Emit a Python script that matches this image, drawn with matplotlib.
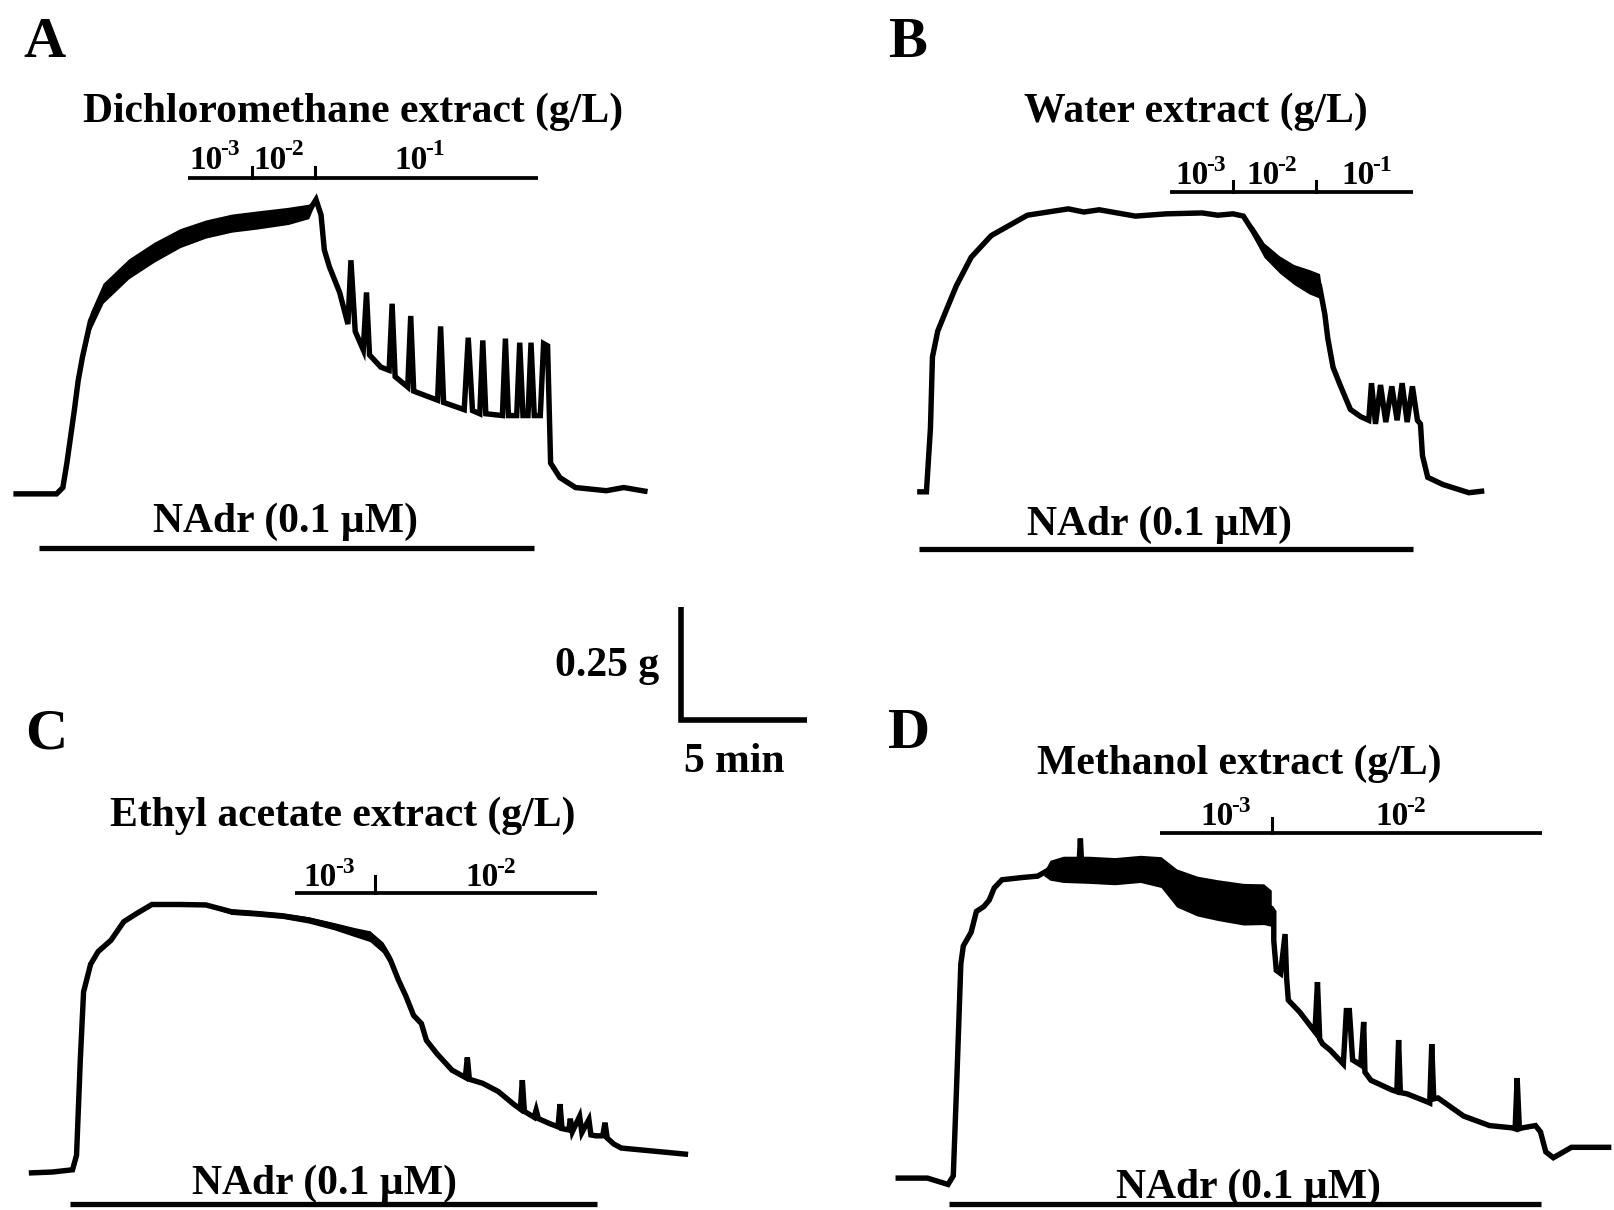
import numpy as np
import matplotlib
matplotlib.use('Agg')
import matplotlib.pyplot as plt

plt.rcParams['font.family'] = ['Liberation Serif', 'DejaVu Serif']
plt.rcParams['font.weight'] = 'bold'

# ---------------- data: (time in min, tension in g) ----------------
A_trace = [(0.00, 0.00), (1.72, 0.00), (1.97, 0.014), (2.13, 0.068), (2.42, 0.182), (2.58, 0.25),
           (2.75, 0.302), (3.07, 0.382), (3.57, 0.443), (4.59, 0.497), (5.61, 0.534), (6.64, 0.565),
           (7.66, 0.585), (8.69, 0.598), (9.71, 0.605), (10.94, 0.614), (11.76, 0.624), (12.05, 0.650),
           (12.25, 0.616), (12.38, 0.539), (12.58, 0.502), (12.99, 0.445), (13.32, 0.375), (13.44, 0.516),
           (13.61, 0.359), (13.93, 0.318), (14.06, 0.445), (14.18, 0.307), (14.63, 0.280), (14.96, 0.273),
           (15.08, 0.420), (15.20, 0.259), (15.70, 0.236), (15.82, 0.393), (15.94, 0.227), (16.27, 0.220),
           (16.89, 0.207), (17.01, 0.370), (17.13, 0.202), (17.95, 0.186), (18.11, 0.345), (18.28, 0.184),
           (18.57, 0.177), (18.69, 0.339), (18.81, 0.177), (19.47, 0.173), (19.59, 0.343), (19.71, 0.173),
           (20.04, 0.173), (20.16, 0.334), (20.29, 0.173), (20.49, 0.173), (20.61, 0.334), (20.74, 0.173),
           (20.98, 0.173), (21.11, 0.332), (21.27, 0.327), (21.39, 0.068), (21.76, 0.036), (22.38, 0.014),
           (23.61, 0.007), (24.30, 0.014), (25.25, 0.005)]
# noisy band: (time, centre, half-amplitude)
A_band = [(2.75, 0.302, 0.012), (3.07, 0.382, 0.020), (3.57, 0.443, 0.022), (4.59, 0.497, 0.022),
          (5.61, 0.534, 0.022), (6.64, 0.565, 0.021), (7.66, 0.585, 0.020), (8.69, 0.598, 0.020),
          (9.71, 0.605, 0.020), (10.94, 0.614, 0.019), (11.76, 0.624, 0.016), (12.05, 0.650, 0.003)]

B_trace = [(0.00, 0.00), (0.37, 0.00), (0.53, 0.141), (0.61, 0.298), (0.82, 0.355), (1.15, 0.400),
           (1.56, 0.455), (2.15, 0.518), (2.95, 0.566), (4.39, 0.611), (5.20, 0.618), (6.02, 0.625),
           (6.64, 0.618), (7.25, 0.623), (8.69, 0.609), (9.92, 0.614), (11.35, 0.616), (11.97, 0.611),
           (12.58, 0.614), (12.99, 0.609), (13.40, 0.573), (13.81, 0.534), (14.43, 0.502), (15.00, 0.480),
           (15.61, 0.464), (16.02, 0.455), (16.23, 0.393), (16.35, 0.339), (16.56, 0.275), (16.84, 0.236),
           (17.25, 0.182), (17.66, 0.166), (17.98, 0.158), (18.09, 0.240), (18.25, 0.150), (18.45, 0.236),
           (18.66, 0.154), (18.90, 0.233), (19.11, 0.158), (19.31, 0.240), (19.51, 0.154), (19.72, 0.233),
           (19.92, 0.158), (20.04, 0.150), (20.12, 0.080), (20.33, 0.032), (20.94, 0.016), (21.97, -0.002),
           (22.58, 0.002)]
B_band = [(12.99, 0.609, 0.003), (13.40, 0.573, 0.012), (13.81, 0.534, 0.016), (14.43, 0.502, 0.019),
          (15.00, 0.480, 0.022), (15.61, 0.464, 0.027), (16.02, 0.455, 0.027), (16.23, 0.393, 0.008)]

C_trace = [(0.00, 0.00), (0.92, 0.002), (1.74, 0.007), (1.90, 0.039), (2.05, 0.25), (2.18, 0.40),
           (2.46, 0.461), (2.76, 0.489), (3.27, 0.514), (3.78, 0.555), (4.29, 0.573), (4.90, 0.593),
           (6.02, 0.593), (7.05, 0.592), (8.07, 0.577), (9.10, 0.573), (10.11, 0.568), (11.13, 0.559),
           (12.16, 0.545), (12.97, 0.532), (13.58, 0.523), (14.10, 0.498), (14.40, 0.470), (14.71, 0.427),
           (15.01, 0.391), (15.32, 0.348), (15.63, 0.330), (15.83, 0.293), (16.24, 0.264), (16.85, 0.227),
           (17.38, 0.211), (17.46, 0.255), (17.54, 0.207), (18.07, 0.198), (18.69, 0.180), (19.30, 0.152),
           (19.57, 0.141), (19.65, 0.205), (19.73, 0.136), (20.12, 0.123), (20.20, 0.139), (20.29, 0.120),
           (20.74, 0.109), (21.07, 0.102), (21.15, 0.152), (21.23, 0.098), (21.50, 0.095), (21.56, 0.120),
           (21.64, 0.091), (21.93, 0.125), (22.02, 0.089), (22.30, 0.118), (22.38, 0.084), (22.58, 0.082),
           (22.85, 0.082), (22.94, 0.111), (23.03, 0.077), (23.29, 0.064), (23.59, 0.055), (26.25, 0.041)]
C_band = [(7.05, 0.592, 0.003), (8.07, 0.577, 0.006), (9.10, 0.573, 0.006), (10.11, 0.568, 0.006),
          (11.13, 0.559, 0.007), (12.16, 0.545, 0.008), (12.97, 0.532, 0.010), (13.58, 0.523, 0.012),
          (14.10, 0.498, 0.012), (14.40, 0.470, 0.012), (14.71, 0.427, 0.010), (15.01, 0.391, 0.008),
          (15.32, 0.348, 0.004)]

D_trace = [(0.00, 0.00), (1.27, 0.00), (2.09, -0.014), (2.30, 0.005), (2.44, 0.216), (2.60, 0.473),
           (2.70, 0.513), (3.01, 0.543), (3.22, 0.589), (3.52, 0.600), (3.73, 0.614), (3.93, 0.641),
           (4.24, 0.659), (5.05, 0.664), (5.66, 0.667), (6.07, 0.680), (6.68, 0.682), (7.30, 0.684),
           (7.36, 0.750), (7.42, 0.684), (7.70, 0.681), (8.73, 0.678), (9.75, 0.683), (10.57, 0.676),
           (11.19, 0.641), (12.01, 0.623), (12.83, 0.614), (13.85, 0.605), (14.66, 0.605), (14.96, 0.596),
           (15.06, 0.588), (15.06, 0.525), (15.16, 0.459), (15.33, 0.452), (15.51, 0.539), (15.57, 0.443),
           (15.64, 0.393), (16.09, 0.367), (16.70, 0.323), (16.80, 0.433), (16.89, 0.307), (17.01, 0.296),
           (17.30, 0.283), (17.83, 0.252), (17.95, 0.370), (18.07, 0.370), (18.20, 0.261), (18.52, 0.250),
           (18.64, 0.345), (18.69, 0.234), (18.93, 0.216), (19.75, 0.195), (19.96, 0.191), (20.03, 0.305),
           (20.10, 0.189), (20.37, 0.186), (21.19, 0.168), (21.27, 0.166), (21.35, 0.296), (21.43, 0.175),
           (21.60, 0.177), (22.62, 0.137), (23.65, 0.116), (24.55, 0.111), (24.67, 0.109), (24.75, 0.221),
           (24.84, 0.109), (24.96, 0.111), (25.48, 0.116), (25.68, 0.102), (25.89, 0.058), (26.19, 0.045),
           (26.60, 0.058), (26.91, 0.068), (28.50, 0.068)]
D_band = [(5.90, 0.672, 0.004), (6.15, 0.680, 0.022), (6.68, 0.682, 0.029), (7.70, 0.681, 0.030),
          (8.73, 0.678, 0.030), (9.75, 0.683, 0.030), (10.57, 0.676, 0.034), (11.19, 0.641, 0.042),
          (12.01, 0.623, 0.044), (12.83, 0.614, 0.045), (13.85, 0.605, 0.046), (14.66, 0.605, 0.045),
          (14.96, 0.596, 0.040)]

# NAdr application (min), extract application and dose changes (min)
A_nadr = (1.02, 20.74); A_extract = (6.97, 20.90); A_dose_ticks = [9.51, 12.01]
B_nadr = (0.08, 19.75); B_extract = (10.08, 19.75); B_dose_ticks = [12.58, 15.90]
C_nadr = (1.64, 22.62); C_extract = (10.61, 22.62); C_dose_ticks = [13.77]
D_nadr = (2.13, 25.70); D_extract = (10.53, 25.74); D_dose_ticks = [15.00]

A_doses = ['-3', '-2', '-1']
B_doses = ['-3', '-2', '-1']
C_doses = ['-3', '-2']
D_doses = ['-3', '-2']

titles = ['Dichloromethane extract (g/L)', 'Water extract (g/L)',
          'Ethyl acetate extract (g/L)', 'Methanol extract (g/L)']
letters = ['A', 'B', 'C', 'D']
nadr_label = 'NAdr (0.1 \u00b5M)'
scale_min = 5
scale_g = 0.25

# ---------------- layout ----------------
W, H = 1568.0, 1176.0      # layout frame (reference pixels)
PX_MIN = 24.4              # pixels per minute
PX_G = 440.0               # pixels per gram
PT2PX = (100 / 72.0) * (W / 1614.0)   # points -> layout pixels

fig = plt.figure(figsize=(16.14, 12.10), dpi=100)
fig.patch.set_facecolor('white')

def panel_axes(x0, yb):
    ax = fig.add_axes([0, 0, 1, 1])
    ax.set_xlim(-x0 / PX_MIN, (W - x0) / PX_MIN)
    ax.set_ylim(-(H - yb) / PX_G, yb / PX_G)
    ax.axis('off')
    ax.patch.set_alpha(0)
    return ax

def ftext(x, y, s, size, ha='center'):
    fig.text(x / W, 1 - y / H, s, ha=ha, va='baseline', fontsize=size,
             fontweight='bold', color='black')

def dose_label(x, y, exp, size=24):
    ftext(x, y, '10', size, ha='left')
    ftext(x + 0.93 * size * PT2PX, y - 0.40 * size * PT2PX, exp, size * 0.70, ha='left')

LW_TRACE = 3.9
panels = [
    dict(trace=A_trace, band=A_band, nadr=A_nadr, ext=A_extract, ticks=A_dose_ticks, doses=A_doses,
         x0=13, yb=480, nadr_y=533, ext_y=173, tick_top=162,
         dose_x=[184, 246, 383], dose_y=164, title_xy=(343, 119), letter_xy=(23, 55), nadr_xy=(277, 517)),
    dict(trace=B_trace, band=B_band, nadr=B_nadr, ext=B_extract, ticks=B_dose_ticks, doses=B_doses,
         x0=891, yb=478, nadr_y=534, ext_y=187, tick_top=176,
         dose_x=[1142, 1211, 1303], dose_y=179, title_xy=(1162, 119), letter_xy=(863, 55), nadr_xy=(1126, 520)),
    dict(trace=C_trace, band=C_band, nadr=C_nadr, ext=C_extract, ticks=C_dose_ticks, doses=C_doses,
         x0=28, yb=1140, nadr_y=1170, ext_y=868, tick_top=851,
         dose_x=[295, 452], dose_y=861, title_xy=(333, 803), letter_xy=(24, 727), nadr_xy=(315, 1160)),
    dict(trace=D_trace, band=D_band, nadr=D_nadr, ext=D_extract, ticks=D_dose_ticks, doses=D_doses,
         x0=870, yb=1145, nadr_y=1170, ext_y=810, tick_top=795,
         dose_x=[1166, 1336], dose_y=802, title_xy=(1204, 752), letter_xy=(863, 727), nadr_xy=(1213, 1164)),
]

axes = []
for i, p in enumerate(panels):
    ax = panel_axes(p['x0'], p['yb'])
    axes.append(ax)
    gy = lambda ypx, yb=p['yb']: (yb - ypx) / PX_G
    t = [a for a, b in p['trace']]
    g = [b for a, b in p['trace']]
    bt = np.array([a for a, b, c in p['band']])
    bc = np.array([b for a, b, c in p['band']])
    ba = np.array([c for a, b, c in p['band']])
    ax.fill_between(bt, bc - ba, bc + ba, color='black', lw=0)
    ax.plot(t, g, color='black', lw=LW_TRACE, solid_joinstyle='miter', solid_capstyle='butt')
    # NAdr bar
    ax.plot(p['nadr'], [gy(p['nadr_y'])] * 2, color='black', lw=3.8, solid_capstyle='butt', clip_on=False)
    # extract bar and dose-change ticks
    ax.plot(p['ext'], [gy(p['ext_y'])] * 2, color='black', lw=2.7, solid_capstyle='butt', clip_on=False)
    for tk in p['ticks']:
        ax.plot([tk, tk], [gy(p['ext_y']), gy(p['tick_top'])], color='black', lw=2.2, clip_on=False)
    for xd, d in zip(p['dose_x'], p['doses']):
        dose_label(xd, p['dose_y'], d)
    ftext(p['title_xy'][0], p['title_xy'][1], titles[i], 30)
    ftext(p['letter_xy'][0], p['letter_xy'][1], letters[i], 42, ha='left')
    ftext(p['nadr_xy'][0], p['nadr_xy'][1], nadr_label, 30)

# scale bar (drawn in panel C units)
axC = axes[2]
ts = (662 - panels[2]['x0']) / PX_MIN
gs = (panels[2]['yb'] - 700) / PX_G
axC.plot([ts, ts, ts + scale_min], [gs + scale_g, gs, gs], color='black', lw=4.0,
         solid_joinstyle='miter', solid_capstyle='butt', clip_on=False)
ftext(640, 657, '0.25 g', 30, ha='right')
ftext(713, 750, '5 min', 30)

fig.savefig('out.png', dpi=100, facecolor='white')
